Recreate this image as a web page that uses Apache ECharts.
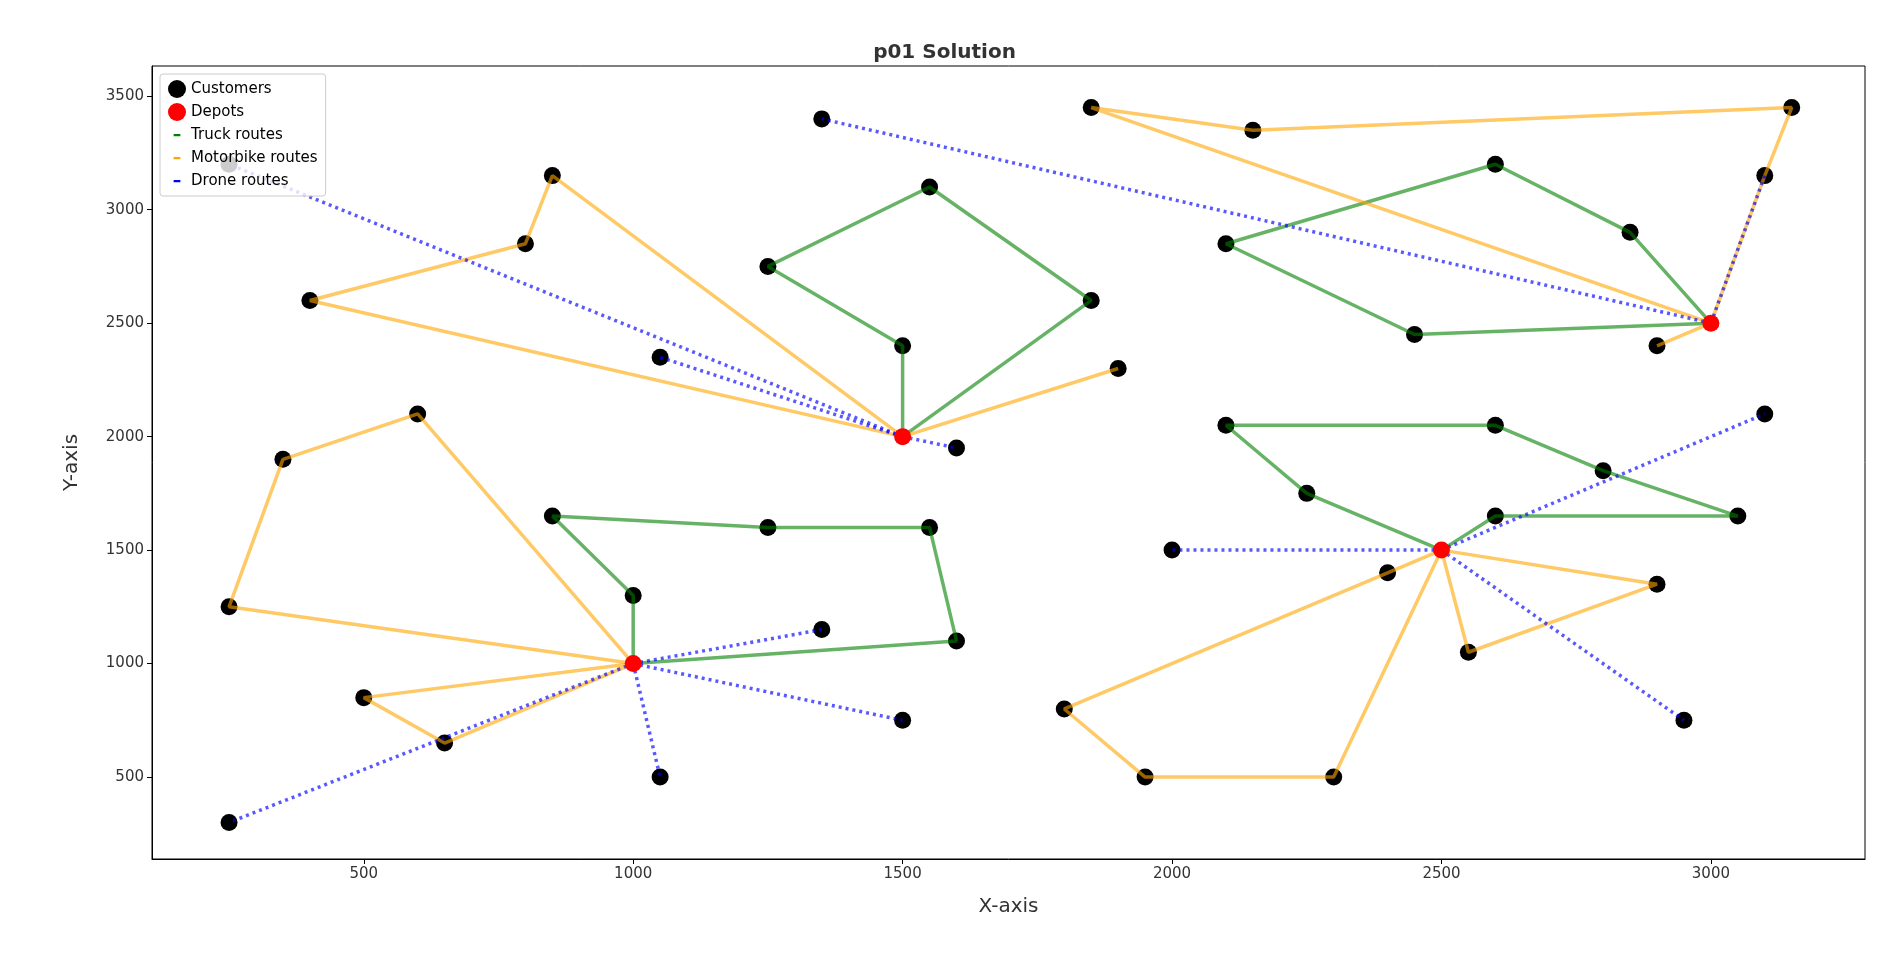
<!DOCTYPE html>
<html><head><meta charset="utf-8">
<script src="https://cdn.jsdelivr.net/npm/echarts@6/dist/echarts.min.js"></script>
<style>html,body{margin:0;background:#fff}#main{width:1889px;height:969px}</style>
</head><body><div id="main"></div>
<script>
var customers = [[1000,1300],[850,1650],[1250,1600],[1550,1600],[1600,1100],[600,2100],[350,1900],[250,1250],
  [500,850],[650,650],[1350,1150],[1500,750],[1050,500],[250,300],
  [1500,2400],[1250,2750],[1550,3100],[1850,2600],[850,3150],[800,2850],[400,2600],[1900,2300],
  [250,3200],[1050,2350],[1600,1950],
  [2250,1750],[2100,2050],[2600,2050],[2800,1850],[3050,1650],[2600,1650],[2900,1350],[2550,1050],
  [2400,1400],[1800,800],[1950,500],[2300,500],[2000,1500],[3100,2100],[2950,750],
  [2850,2900],[2600,3200],[2100,2850],[2450,2450],[1850,3450],[2150,3350],[3150,3450],[3100,3150],
  [2900,2400],[1350,3400]];
var depots = [[1000,1000],[1500,2000],[2500,1500],[3000,2500]];
var truckRoutes = [
  [[1000,1000],[1000,1300],[850,1650],[1250,1600],[1550,1600],[1600,1100],[1000,1000]],
  [[1500,2000],[1500,2400],[1250,2750],[1550,3100],[1850,2600],[1500,2000]],
  [[2500,1500],[2250,1750],[2100,2050],[2600,2050],[2800,1850],[3050,1650],[2600,1650],[2500,1500]],
  [[3000,2500],[2850,2900],[2600,3200],[2100,2850],[2450,2450],[3000,2500]]
];
var bikeRoutes = [
  [[1000,1000],[600,2100],[350,1900],[250,1250],[1000,1000]],
  [[1000,1000],[500,850],[650,650],[1000,1000]],
  [[1500,2000],[850,3150],[800,2850],[400,2600],[1500,2000]],
  [[1500,2000],[1900,2300],[1500,2000]],
  [[2500,1500],[2900,1350],[2550,1050],[2500,1500]],
  [[2500,1500],[2400,1400],[1800,800],[1950,500],[2300,500],[2500,1500]],
  [[3000,2500],[1850,3450],[2150,3350],[3150,3450],[3100,3150],[3000,2500]],
  [[3000,2500],[2900,2400],[3000,2500]]
];
var droneRoutes = [
  [[1000,1000],[1350,1150]],[[1000,1000],[1500,750]],[[1000,1000],[1050,500]],[[1000,1000],[250,300]],
  [[1500,2000],[250,3200]],[[1500,2000],[1050,2350]],[[1500,2000],[1600,1950]],
  [[2500,1500],[2000,1500]],[[2500,1500],[3100,2100]],[[2500,1500],[2950,750]],
  [[3000,2500],[1350,3400]],[[3000,2500],[3100,3150]]
];
var ticksX = [500,1000,1500,2000,2500,3000];
var ticksY = [500,1000,1500,2000,2500,3000,3500];

var series = [];
function addRoutes(routes, name, color, type, opacity) {
  routes.forEach(function (r) {
    series.push({name: name, type: 'line', data: r, symbol: 'none', z: 3,
      lineStyle: {color: color, width: 3.5, type: type, opacity: opacity}, itemStyle: {color: color}});
  });
}
addRoutes(truckRoutes, 'Truck routes', 'green', 'solid', 0.6);
addRoutes(bikeRoutes, 'Motorbike routes', 'orange', 'solid', 0.6);
addRoutes(droneRoutes, 'Drone routes', 'blue', [3, 4], 0.65);
series.unshift({name: 'Depots', type: 'scatter', data: depots, symbolSize: 17, z: 4, itemStyle: {color: 'red', opacity: 1}});
series.unshift({name: 'Customers', type: 'scatter', data: customers, symbolSize: 17, z: 2, itemStyle: {color: 'black', opacity: 1}});

var dash = 'path://M0,0h0.01v0.01h-0.01zM15.99,15.99h0.01v0.01h-0.01zM5,7h6v2h-6z';
var font = 'DejaVu Sans';
var chart = echarts.init(document.getElementById('main'));
chart.setOption({
  animation: false,
  textStyle: {fontFamily: font},
  title: {text: 'p01 Solution', left: 'center', top: 38, textStyle: {fontSize: 20, fontWeight: 'bold', color: '#333', fontFamily: font}},
  grid: {left: 152, right: 24, top: 66, bottom: 110, show: true, borderColor: '#000', borderWidth: 1},
  legend: {
    left: 160, top: 74, orient: 'vertical', itemGap: 5, borderColor: '#ccc', borderWidth: 1, borderRadius: 3,
    padding: [6, 8], backgroundColor: 'rgba(255,255,255,0.8)', textStyle: {fontSize: 15, color: '#000'},
    itemWidth: 18, itemHeight: 18,
    data: [
      {name: 'Customers', icon: 'circle', itemStyle: {opacity: 1}},
      {name: 'Depots', icon: 'circle', itemStyle: {opacity: 1}},
      {name: 'Truck routes', icon: dash, itemStyle: {color: 'green', opacity: 1}},
      {name: 'Motorbike routes', icon: dash, itemStyle: {color: 'orange', opacity: 1}},
      {name: 'Drone routes', icon: dash, itemStyle: {color: 'blue', opacity: 1}}
    ]
  },
  xAxis: {type: 'value', min: 107, max: 3286, name: 'X-axis', nameLocation: 'middle', nameGap: 38,
    nameTextStyle: {fontSize: 20, color: '#333'}, splitLine: {show: false},
    axisLine: {lineStyle: {color: '#000'}},
    axisTick: {customValues: ticksX, length: 5, lineStyle: {color: '#000'}},
    axisLabel: {customValues: ticksX, fontSize: 15, color: '#333', formatter: function (v) { return String(v); }}},
  yAxis: {type: 'value', min: 139, max: 3633, name: 'Y-axis', nameLocation: 'middle', nameGap: 70,
    nameTextStyle: {fontSize: 20, color: '#333'}, splitLine: {show: false},
    axisLine: {show: true, lineStyle: {color: '#000'}},
    axisTick: {show: true, customValues: ticksY, length: 5, lineStyle: {color: '#000'}},
    axisLabel: {customValues: ticksY, fontSize: 15, color: '#333', formatter: function (v) { return String(v); }}},
  series: series
});
</script></body></html>
